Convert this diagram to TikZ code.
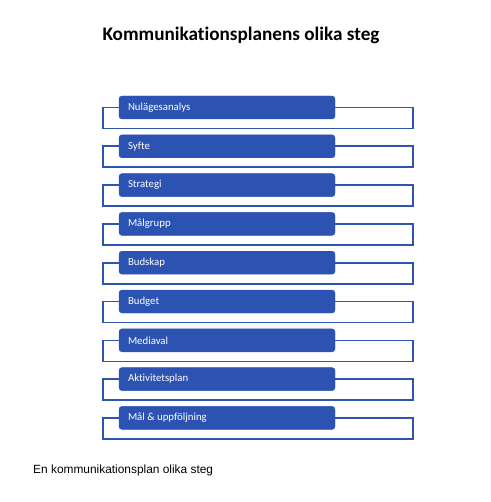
\documentclass[tikz,border=0pt]{standalone}
\usepackage{fontspec}
\setmainfont{Carlito}[Ligatures=NoCommon]
\newfontfamily\captionfont{Liberation Sans}
\usetikzlibrary{positioning}
\definecolor{stepblue}{RGB}{44,83,178}
\definecolor{frameblue}{RGB}{46,86,176}

\begin{document}
\begin{tikzpicture}[x=1pt, y=1pt]
			\tikzstyle{Step} = [ %the blue boxes
				draw=stepblue,
				fill=stepblue,
				rounded corners=3pt,
				minimum width=216pt,
				minimum height=23pt,
				text=white,
				font=\fontsize{10.8}{12}\selectfont,
				inner sep=0pt
			]
			\tikzstyle{Frame} = [
				draw=frameblue,
				line width=1.6pt
			]
			\useasboundingbox (0,0) rectangle (490,-502);
			
			\node (title) at (241,-35) {\fontsize{19.2}{22}\bfseries\selectfont Kommunikationsplanens olika steg};
			
			\node (s1) [Step] at (227,-107.5) {};
			\node (s2) [Step, below = 15.4pt of s1] {};
			\node (s3) [Step, below = 15.4pt of s2] {};
			\node (s4) [Step, below = 15.4pt of s3] {};
			\node (s5) [Step, below = 15.4pt of s4] {};
			\node (s6) [Step, below = 15.4pt of s5] {};
			\node (s7) [Step, below = 15.4pt of s6] {};
			\node (s8) [Step, below = 15.4pt of s7] {};
			\node (s9) [Step, below = 15.4pt of s8] {};
			
			\draw[Frame] (s1.west) -- ++(-16,0) -- ++(0,-21) -- ++(310,0) -- ++(0,21) -- (s1.east);
			\draw[Frame] (s2.west) -- ++(-16,0) -- ++(0,-21) -- ++(310,0) -- ++(0,21) -- (s2.east);
			\draw[Frame] (s3.west) -- ++(-16,0) -- ++(0,-21) -- ++(310,0) -- ++(0,21) -- (s3.east);
			\draw[Frame] (s4.west) -- ++(-16,0) -- ++(0,-21) -- ++(310,0) -- ++(0,21) -- (s4.east);
			\draw[Frame] (s5.west) -- ++(-16,0) -- ++(0,-21) -- ++(310,0) -- ++(0,21) -- (s5.east);
			\draw[Frame] (s6.west) -- ++(-16,0) -- ++(0,-21) -- ++(310,0) -- ++(0,21) -- (s6.east);
			\draw[Frame] (s7.west) -- ++(-16,0) -- ++(0,-21) -- ++(310,0) -- ++(0,21) -- (s7.east);
			\draw[Frame] (s8.west) -- ++(-16,0) -- ++(0,-21) -- ++(310,0) -- ++(0,21) -- (s8.east);
			\draw[Frame] (s9.west) -- ++(-16,0) -- ++(0,-21) -- ++(310,0) -- ++(0,21) -- (s9.east);
			
			\node [Step, draw=none, fill=none, minimum width=0pt, anchor=west, right = 9pt of s1.west] {Nulägesanalys};
			\node [Step, draw=none, fill=none, minimum width=0pt, anchor=west, right = 9pt of s2.west] {Syfte};
			\node [Step, draw=none, fill=none, minimum width=0pt, anchor=west, right = 9pt of s3.west] {Strategi};
			\node [Step, draw=none, fill=none, minimum width=0pt, anchor=west, right = 9pt of s4.west] {Målgrupp};
			\node [Step, draw=none, fill=none, minimum width=0pt, anchor=west, right = 9pt of s5.west] {Budskap};
			\node [Step, draw=none, fill=none, minimum width=0pt, anchor=west, right = 9pt of s6.west] {Budget};
			\node [Step, draw=none, fill=none, minimum width=0pt, anchor=west, right = 9pt of s7.west] {Mediaval};
			\node [Step, draw=none, fill=none, minimum width=0pt, anchor=west, right = 9pt of s8.west] {Aktivitetsplan};
			\node [Step, draw=none, fill=none, minimum width=0pt, anchor=west, right = 9pt of s9.west] {Mål \& uppföljning};
			
			\node (caption) [anchor=west, inner sep=0pt] at (33,-470) {\captionfont\fontsize{11.9}{14}\selectfont En kommunikationsplan olika steg};
		\end{tikzpicture}
\end{document}
